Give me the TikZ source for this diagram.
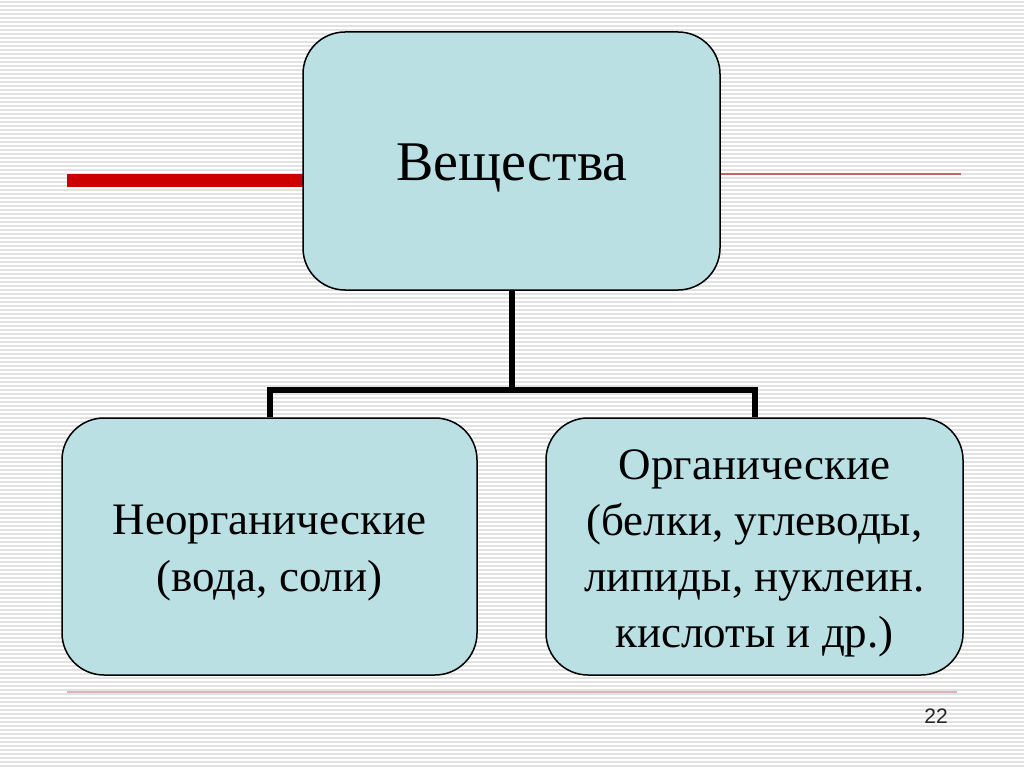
\documentclass[tikz,border=0pt]{standalone}
\usepackage{fontspec}
\setmainfont{Liberation Serif}
\newfontfamily\numfont{Liberation Sans}
\definecolor{boxfill}{HTML}{BAE0E3}
\definecolor{stripe}{HTML}{E2E2E2}
\definecolor{redbar}{HTML}{CC0000}
\definecolor{thinred}{HTML}{C06464}
\definecolor{pinkline}{HTML}{D9B4BC}
\begin{document}
\begin{tikzpicture}[x=1pt,y=-1pt,
  box/.style={draw=black,line width=1.5pt,fill=boxfill,rounded corners=42pt,align=center,inner sep=0pt},
  conn/.style={line width=6pt}]
\useasboundingbox (0,0) rectangle (1024,767);
\fill[white] (0,0) rectangle (1024,767);
\foreach \i in {0,...,191} {\fill[stripe] (0,{\i*4+1}) rectangle (1024,{\i*4+3});}
% decorative lines
\fill[redbar] (67,174) rectangle (305,187);
\draw[thinred,line width=1.5pt] (720,174) -- (961,174);
\draw[pinkline,line width=1.5pt] (67,692) -- (957,692);
% boxes
\node[box,minimum width=417pt,minimum height=258pt] (top) at (511.5,161) {};
\node[font=\fontsize{56}{60}\selectfont] (toptext) at (512,168) {Вещества};
\node[box,minimum width=415pt,minimum height=257pt] (left) at (269.5,546.5) {};
\node[align=center,font=\fontsize{45}{57}\selectfont] (lefttext) at (269.5,553) {Неорганические\\(вода, соли)};
\node[box,minimum width=417pt,minimum height=257pt] (right) at (754.5,546.5) {};
\node[align=center,font=\fontsize{45}{56}\selectfont] (righttext) at (754.5,553) {Органические\\(белки, углеводы,\\липиды, нуклеин.\\кислоты и др.)};
% connectors
\coordinate (mid) at (511.5,390);
\draw[conn] (top.south) -- (mid);
\draw[conn] (left.north) |- (mid) -| (right.north);
\node[font=\numfont\fontsize{21}{24}\selectfont,text=black!85] (num) at (936,716) {22};
\end{tikzpicture}
\end{document}
